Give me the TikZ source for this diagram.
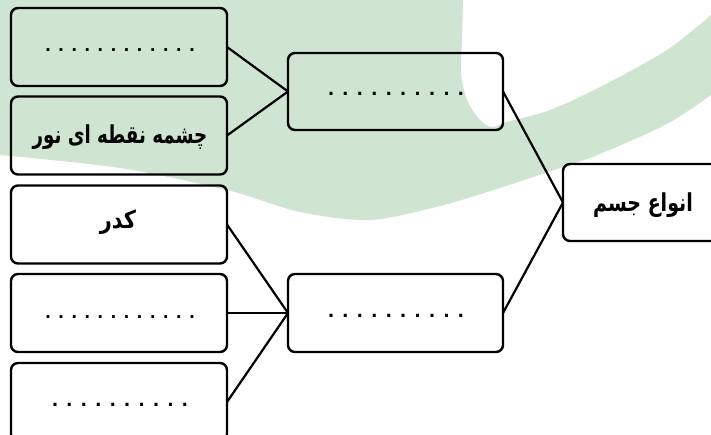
\documentclass[tikz,border=0pt]{standalone}
\usepackage{fontspec}
\usepackage{graphicx}
\TeXXeTstate=1
\newfontfamily\arabicfont[Script=Arabic]{DejaVu Sans}
\newfontfamily\dotfont{DejaVu Sans}
\definecolor{bggreen}{RGB}{207,229,210}
\begin{document}
\begin{tikzpicture}[x=1pt,y=-1pt,
  box/.style={draw=black, line width=2.4pt, rounded corners=7pt, minimum height=77pt, inner sep=0pt, outer sep=0pt},
  lbox/.style={box, minimum width=216pt, minimum height=78pt},
  mbox/.style={box, minimum width=215pt},
  link/.style={line width=2.2pt, line cap=round},
  fa/.style={font=\arabicfont\bfseries\fontsize{19}{22}\selectfont, inner sep=0pt},
  dotsA/.style={font=\dotfont\bfseries\fontsize{15.5}{18}\selectfont, inner sep=0pt},
  dotsB/.style={font=\dotfont\bfseries\fontsize{17.1}{20}\selectfont, inner sep=0pt}]
\useasboundingbox (0,0) rectangle (711,434);
\clip (0,0) rectangle (711,434);
% background watermark
\fill[bggreen] (0,0) -- plot[smooth] coordinates {(463,0) (462,40) (461,73) (467,100) (480,120) (492,127) (507,122) (550,110) (600,87) (667,50) (711,15)}
  -- (711,95) -- plot[smooth] coordinates {(711,95) (667,124) (600,154) (560,168) (500,188) (440,206) (370,220) (300,212) (227,190) (120,168) (0,155)} -- cycle;
% boxes
\node[lbox] (l1) at (119,47) {};
\node[lbox] (l2) at (119,135.5) {};
\node[lbox] (l3) at (119,224.5) {};
\node[lbox] (l4) at (119,313) {};
\node[lbox] (l5) at (119,402) {};
\node[mbox] (m1) at (395.5,91.5) {};
\node[mbox, minimum height=78pt] (m2) at (395.5,313) {};
\node[box, minimum width=159pt] (r) at (642.5,202.5) {};
% texts
\node[dotsA] (t1) at (120,50) {. . . . . . . . . . . .};
\node[fa] (t2) at (120,137) {\scalebox{0.96}[1.3]{\beginR چشمه نقطه ای نور\endR}};
\node[fa] (t3) at (118,222) {\scalebox{1.1}[1.3]{\beginR کدر\endR}};
\node[dotsA] (t4) at (120,317) {. . . . . . . . . . . .};
\node[dotsB] (t5) at (120,405) {. . . . . . . . . .};
\node[dotsB] (t6) at (396,94) {. . . . . . . . . .};
\node[dotsB] (t7) at (396,316) {. . . . . . . . . .};
\node[fa] (t8) at (643,205) {\scalebox{1}[1.3]{\beginR انواع جسم\endR}};
% connectors
\draw[link] (l1.east) -- (m1.west);
\draw[link] (l2.east) -- (m1.west);
\draw[link] (l3.east) -- (m2.west);
\draw[link] (l4.east) -- (m2.west);
\draw[link] (l5.east) -- (m2.west);
\draw[link] (m1.east) -- (r.west);
\draw[link] (m2.east) -- (r.west);
\end{tikzpicture}
\end{document}
